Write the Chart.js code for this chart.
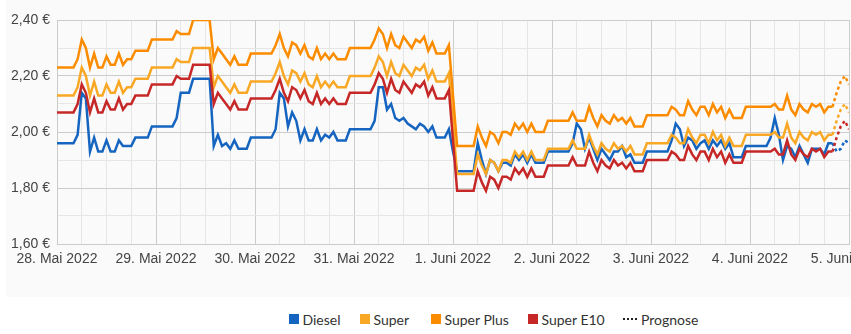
<!DOCTYPE html>
<html lang="de">
<head>
<meta charset="utf-8">
<title>Spritpreise</title>
<script src="https://cdn.jsdelivr.net/npm/chart.js@4/dist/chart.umd.min.js"></script>
<style>
  html, body { margin: 0; padding: 0; background: #ffffff; overflow: hidden; }
  #wrap { position: relative; width: 851px; height: 334px; overflow: hidden; }
  #panel { position: absolute; left: 6px; top: 0; width: 845px; height: 297px; background: #fafafa; }
  #chart { position: absolute; left: 0; top: 0; }
  .legend-item { position: absolute; top: 312px; height: 14px; display: flex; align-items: center;
                 font: 14px Lato, "Noto Sans", sans-serif; color: #333; white-space: nowrap; }
  .swatch { width: 10px; height: 10px; margin-right: 3.5px; }
  .dots { width: 14px; height: 2px; margin-right: 4px;
          background: repeating-linear-gradient(to right, #222 0 2px, transparent 2px 4px); }
</style>
</head>
<body>
<div id="wrap">
  <div id="panel"></div>
  <canvas id="chart" width="920" height="297"></canvas>
  <div id="legend"></div>
</div>
<script>
// Hourly prices from 28. Mai 2022 00:00 (index 0 = hour 0)
const dayLabels = ['28. Mai 2022', '29. Mai 2022', '30. Mai 2022', '31. Mai 2022', '1. Juni 2022',
                   '2. Juni 2022', '3. Juni 2022', '4. Juni 2022', '5. Juni 2022'];
const priceLabels = ['1,60 €', '1,80 €', '2,00 €', '2,20 €', '2,40 €'];

const diesel = [
  1.96,1.96,1.96,1.96,1.96,1.99,2.14,2.12,1.93,1.98,1.93,1.93,
  1.97,1.93,1.93,1.97,1.95,1.95,1.95,1.98,1.98,1.98,1.98,2.02,
  2.02,2.02,2.02,2.02,2.02,2.05,2.14,2.14,2.14,2.19,2.19,2.19,
  2.19,2.19,1.95,1.99,1.95,1.96,1.94,1.97,1.94,1.94,1.94,1.98,
  1.98,1.98,1.98,1.98,1.98,2.01,2.14,2.12,2.02,2.07,2.04,1.97,
  2.01,1.97,1.97,2.01,1.97,1.99,1.98,2.00,1.97,1.97,1.97,2.01,
  2.01,2.01,2.01,2.01,2.01,2.04,2.16,2.16,2.08,2.10,2.05,2.04,
  2.05,2.03,2.02,2.01,2.03,2.02,2.00,2.02,1.98,1.98,1.98,2.01,
  1.93,1.86,1.86,1.86,1.86,1.86,1.96,1.90,1.85,1.90,1.89,1.86,
  1.89,1.89,1.88,1.92,1.90,1.92,1.89,1.92,1.89,1.89,1.89,1.93,
  1.93,1.93,1.93,1.93,1.93,1.96,2.03,2.01,1.94,1.98,1.94,1.90,
  1.94,1.92,1.90,1.93,1.93,1.95,1.91,1.92,1.89,1.89,1.89,1.93,
  1.93,1.93,1.93,1.93,1.93,1.97,2.03,2.01,1.95,1.98,1.97,1.94,
  1.96,1.97,1.94,1.97,1.95,1.97,1.94,1.96,1.91,1.91,1.91,1.95,
  1.95,1.95,1.95,1.95,1.95,1.98,2.05,1.99,1.90,1.95,1.94,1.91,
  1.95,1.92,1.89,1.94,1.94,1.94,1.92,1.96,1.96
];

const superE5 = [
  2.13,2.13,2.13,2.13,2.13,2.16,2.23,2.20,2.13,2.18,2.13,2.13,
  2.17,2.14,2.14,2.18,2.14,2.16,2.16,2.19,2.19,2.19,2.19,2.23,
  2.23,2.23,2.23,2.23,2.23,2.26,2.25,2.25,2.25,2.30,2.30,2.30,
  2.30,2.30,2.16,2.20,2.18,2.16,2.14,2.17,2.14,2.14,2.14,2.18,
  2.18,2.18,2.18,2.18,2.18,2.21,2.25,2.20,2.17,2.22,2.21,2.18,
  2.21,2.17,2.16,2.20,2.16,2.18,2.16,2.18,2.16,2.16,2.16,2.20,
  2.20,2.20,2.20,2.20,2.20,2.23,2.27,2.25,2.20,2.25,2.21,2.20,
  2.24,2.22,2.20,2.23,2.22,2.24,2.19,2.22,2.18,2.18,2.18,2.21,
  2.03,1.85,1.85,1.85,1.85,1.85,1.92,1.88,1.85,1.90,1.89,1.86,
  1.90,1.90,1.89,1.93,1.91,1.93,1.90,1.93,1.90,1.90,1.90,1.94,
  1.94,1.94,1.94,1.94,1.94,1.97,1.94,1.94,1.94,1.99,1.95,1.92,
  1.96,1.94,1.93,1.96,1.94,1.95,1.93,1.95,1.92,1.92,1.92,1.96,
  1.96,1.96,1.96,1.96,1.96,1.99,1.98,1.96,1.96,2.01,1.98,1.96,
  1.99,1.99,1.96,2.00,1.97,1.99,1.95,1.98,1.95,1.95,1.95,1.99,
  1.99,1.99,1.99,1.99,1.99,1.99,2.00,1.98,1.98,2.03,1.98,1.96,
  2.00,1.98,1.97,2.00,1.99,2.00,1.97,1.99,1.99
];

const superPlus = [
  2.23,2.23,2.23,2.23,2.23,2.26,2.33,2.30,2.23,2.28,2.23,2.23,
  2.27,2.24,2.24,2.28,2.24,2.26,2.26,2.29,2.29,2.29,2.29,2.33,
  2.33,2.33,2.33,2.33,2.33,2.36,2.35,2.35,2.35,2.40,2.40,2.40,
  2.40,2.40,2.26,2.30,2.28,2.26,2.24,2.27,2.24,2.24,2.24,2.28,
  2.28,2.28,2.28,2.28,2.28,2.31,2.35,2.30,2.27,2.32,2.31,2.28,
  2.31,2.27,2.26,2.30,2.26,2.28,2.26,2.28,2.26,2.26,2.26,2.30,
  2.30,2.30,2.30,2.30,2.30,2.33,2.37,2.35,2.30,2.35,2.31,2.30,
  2.34,2.32,2.30,2.33,2.32,2.34,2.29,2.32,2.28,2.28,2.28,2.31,
  2.13,1.95,1.95,1.95,1.95,1.95,2.02,1.98,1.95,2.00,1.99,1.96,
  2.00,2.00,1.99,2.03,2.01,2.03,2.00,2.03,2.00,2.00,2.00,2.04,
  2.04,2.04,2.04,2.04,2.04,2.07,2.04,2.04,2.04,2.09,2.05,2.02,
  2.06,2.04,2.03,2.06,2.04,2.05,2.03,2.05,2.02,2.02,2.02,2.06,
  2.06,2.06,2.06,2.06,2.06,2.09,2.08,2.06,2.06,2.11,2.08,2.06,
  2.09,2.09,2.06,2.10,2.07,2.09,2.05,2.08,2.05,2.05,2.05,2.09,
  2.09,2.09,2.09,2.09,2.09,2.09,2.10,2.08,2.08,2.13,2.08,2.06,
  2.10,2.08,2.07,2.10,2.09,2.10,2.07,2.09,2.09
];

const superE10 = [
  2.07,2.07,2.07,2.07,2.07,2.10,2.17,2.14,2.07,2.12,2.07,2.07,
  2.11,2.08,2.08,2.12,2.08,2.10,2.10,2.13,2.13,2.13,2.13,2.17,
  2.17,2.17,2.17,2.17,2.17,2.20,2.19,2.19,2.19,2.24,2.24,2.24,
  2.24,2.24,2.10,2.14,2.12,2.10,2.08,2.11,2.08,2.08,2.08,2.12,
  2.12,2.12,2.12,2.12,2.12,2.15,2.19,2.14,2.11,2.16,2.15,2.12,
  2.15,2.11,2.10,2.14,2.10,2.12,2.10,2.12,2.10,2.10,2.10,2.14,
  2.14,2.14,2.14,2.14,2.14,2.17,2.21,2.19,2.14,2.19,2.15,2.14,
  2.18,2.16,2.14,2.17,2.16,2.18,2.13,2.16,2.12,2.12,2.12,2.15,
  1.97,1.79,1.79,1.79,1.79,1.79,1.86,1.82,1.79,1.84,1.83,1.80,
  1.84,1.84,1.83,1.87,1.85,1.87,1.84,1.87,1.84,1.84,1.84,1.88,
  1.88,1.88,1.88,1.88,1.88,1.91,1.88,1.88,1.88,1.93,1.89,1.86,
  1.90,1.88,1.87,1.90,1.88,1.89,1.87,1.89,1.86,1.86,1.86,1.90,
  1.90,1.90,1.90,1.90,1.90,1.93,1.92,1.90,1.90,1.95,1.92,1.90,
  1.93,1.93,1.90,1.94,1.91,1.93,1.89,1.92,1.89,1.89,1.89,1.93,
  1.93,1.93,1.93,1.93,1.93,1.93,1.94,1.92,1.92,1.97,1.92,1.90,
  1.94,1.92,1.91,1.94,1.93,1.94,1.91,1.93,1.93
];

// Forecast, starting at the last measured hour
const forecastStart = 188;
const dieselForecast    = [1.96, 1.93, 1.94, 1.97, 1.96];
const superForecast     = [1.99, 2.04, 2.08, 2.10, 2.07];
const superPlusForecast = [2.09, 2.14, 2.18, 2.20, 2.17];
const e10Forecast       = [1.93, 1.98, 2.02, 2.04, 2.01];

const colors = { diesel: '#1565c0', super: '#f9a825', superPlus: '#fb8c00', e10: '#c62828' };

const toPoints = (arr, start = 0) => arr.map((v, i) => ({ x: start + i, y: v }));

const lineSet = (label, arr, color) => ({
  label, data: toPoints(arr), borderColor: color, backgroundColor: color,
  borderWidth: 2.5, pointRadius: 0, tension: 0, fill: false
});
const forecastSet = (label, arr, color) => ({
  label, data: toPoints(arr, forecastStart), borderColor: color, backgroundColor: color,
  borderWidth: 2.5, borderDash: [3, 3], pointRadius: 0, tension: 0, fill: false
});

const axisFont = { family: '"Liberation Sans", Arial, sans-serif', size: 14 };
const isMajorPrice = v => Math.round(v * 10) % 2 === 0;

new Chart(document.getElementById('chart'), {
  type: 'line',
  data: {
    datasets: [
      lineSet('Super E10', superE10, colors.e10),
      lineSet('Super Plus', superPlus, colors.superPlus),
      lineSet('Super', superE5, colors.super),
      lineSet('Diesel', diesel, colors.diesel),
      forecastSet('Super E10 Prognose', e10Forecast, colors.e10),
      forecastSet('Super Plus Prognose', superPlusForecast, colors.superPlus),
      forecastSet('Super Prognose', superForecast, colors.super),
      forecastSet('Diesel Prognose', dieselForecast, colors.diesel)
    ]
  },
  options: {
    responsive: false,
    animation: false,
    events: [],
    layout: { padding: { top: 20, right: 71, left: 0, bottom: 0 } },
    plugins: { legend: { display: false }, tooltip: { enabled: false } },
    scales: {
      x: {
        type: 'linear', min: 0, max: 192,
        afterFit(s) { s.height = 53; s.paddingLeft = 0; s.paddingRight = 0; },
        ticks: {
          stepSize: 6, autoSkip: false, maxRotation: 0, minRotation: 0, padding: 7,
          color: '#444', font: axisFont,
          callback: v => (v % 24 === 0 ? dayLabels[v / 24] : '')
        },
        grid: {
          drawTicks: false, lineWidth: 1,
          color: c => (c.tick && c.tick.value % 24 === 0 ? '#cccccc' : '#e6e6e6')
        },
        border: { color: '#cccccc', width: 1 }
      },
      y: {
        min: 1.6, max: 2.4,
        afterFit(s) { s.width = 57; s.paddingTop = 0; s.paddingBottom = 0; },
        ticks: {
          stepSize: 0.1, padding: 7, color: '#444', font: axisFont,
          callback: v => (isMajorPrice(v) ? priceLabels[Math.round((v - 1.6) * 5)] : '')
        },
        grid: {
          drawTicks: false, lineWidth: 1,
          color: c => (c.tick && isMajorPrice(c.tick.value) ? '#cccccc' : '#e6e6e6')
        },
        border: { color: '#cccccc', width: 1 }
      }
    }
  }
});

// Legend below the chart
const legendItems = [
  { label: 'Diesel', color: colors.diesel, left: 289 },
  { label: 'Super', color: colors.super, left: 360 },
  { label: 'Super Plus', color: colors.superPlus, left: 431 },
  { label: 'Super E10', color: colors.e10, left: 528 },
  { label: 'Prognose', dotted: true, left: 623 }
];
const legend = document.getElementById('legend');
legendItems.forEach(item => {
  const el = document.createElement('div');
  el.className = 'legend-item';
  el.style.left = item.left + 'px';
  const mark = document.createElement('span');
  if (item.dotted) {
    mark.className = 'dots';
  } else {
    mark.className = 'swatch';
    mark.style.background = item.color;
  }
  el.appendChild(mark);
  const txt = document.createElement('span');
  txt.textContent = item.label;
  el.appendChild(txt);
  legend.appendChild(el);
});
</script>
</body>
</html>
